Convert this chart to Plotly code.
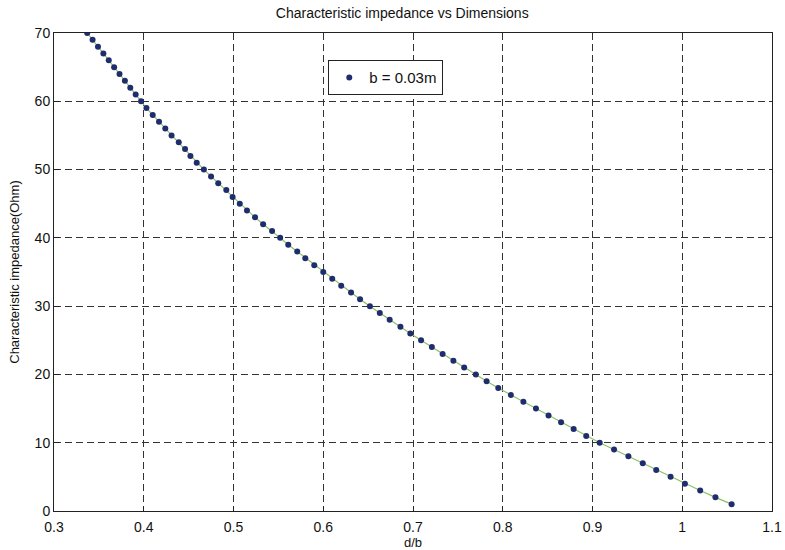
import plotly.graph_objects as go

# Characteristic impedance (Ohm), one point per integer value
impedance = [70, 69, 68, 67, 66, 65, 64, 63, 62, 61,
             60, 59, 58, 57, 56, 55, 54, 53, 52, 51,
             50, 49, 48, 47, 46, 45, 44, 43, 42, 41,
             40, 39, 38, 37, 36, 35, 34, 33, 32, 31,
             30, 29, 28, 27, 26, 25, 24, 23, 22, 21,
             20, 19, 18, 17, 16, 15, 14, 13, 12, 11,
             10, 9, 8, 7, 6, 5, 4, 3, 2, 1]

# d/b ratio
d_over_b = [0.337, 0.343, 0.349, 0.355, 0.361, 0.367, 0.373, 0.379, 0.385, 0.391,
            0.397, 0.403, 0.410, 0.417, 0.424, 0.431, 0.439, 0.446, 0.452, 0.459,
            0.467, 0.475, 0.483, 0.492, 0.499, 0.507, 0.515, 0.524, 0.533, 0.543,
            0.552, 0.561, 0.571, 0.580, 0.590, 0.600, 0.610, 0.620, 0.631, 0.641,
            0.652, 0.663, 0.674, 0.686, 0.697, 0.709, 0.721, 0.733, 0.745, 0.757,
            0.770, 0.782, 0.795, 0.809, 0.823, 0.837, 0.851, 0.865, 0.879, 0.893,
            0.908, 0.924, 0.940, 0.956, 0.971, 0.987, 1.003, 1.020, 1.037, 1.055]

x_ticks = [0.3, 0.4, 0.5, 0.6, 0.7, 0.8, 0.9, 1.0, 1.1]
x_tick_labels = ["0.3", "0.4", "0.5", "0.6", "0.7", "0.8", "0.9", "1", "1.1"]
y_ticks = [0, 10, 20, 30, 40, 50, 60, 70]

series_name = "b = 0.03m"

FONT = "Liberation Sans, Arial, sans-serif"

fig = go.Figure()
fig.add_trace(go.Scatter(
    x=d_over_b, y=impedance, mode="lines",
    line=dict(color="#8cc063", width=1.2),
    showlegend=False, hoverinfo="skip",
))
fig.add_trace(go.Scatter(
    x=d_over_b, y=impedance, mode="markers", name=series_name,
    marker=dict(color="#1f2d6e", size=6),
))

axis_common = dict(
    showline=True, linecolor="#222222", linewidth=1, mirror=True,
    showgrid=True, gridcolor="#333333", gridwidth=1, griddash="7px,4px",
    ticks="inside", ticklen=5, tickcolor="#222222",
    zeroline=False, automargin=False, ticklabeloverflow="allow",
    tickfont=dict(family=FONT, size=14, color="#111111"),
)

fig.update_layout(
    width=785, height=550,
    margin=dict(l=54, r=13, t=33, b=39),
    paper_bgcolor="white", plot_bgcolor="white",
    font=dict(family=FONT, size=13, color="#111111"),
    title=dict(text="Characteristic impedance vs Dimensions",
               x=0.485, xref="paper", xanchor="center",
               y=1 - 13 / 550, yanchor="middle",
               font=dict(family=FONT, size=14, color="#111111")),
    legend=dict(x=0.382, y=0.943, xanchor="left", yanchor="top",
                bgcolor="white", bordercolor="#222222", borderwidth=1,
                font=dict(family=FONT, size=15, color="#111111")),
    xaxis=dict(range=[0.3, 1.1], tickvals=x_ticks, ticktext=x_tick_labels,
               ticklabelstandoff=3,
               title=dict(text="d/b", standoff=4,
                          font=dict(family=FONT, size=13)),
               **axis_common),
    yaxis=dict(range=[0, 70], tickvals=y_ticks,
               title=dict(text="Characteristic impedance(Ohm)", standoff=12,
                          font=dict(family=FONT, size=13)),
               **axis_common),
)

fig.write_html("out.html",
               config={"displayModeBar": False},
               post_script="document.body.style.margin='0';")
